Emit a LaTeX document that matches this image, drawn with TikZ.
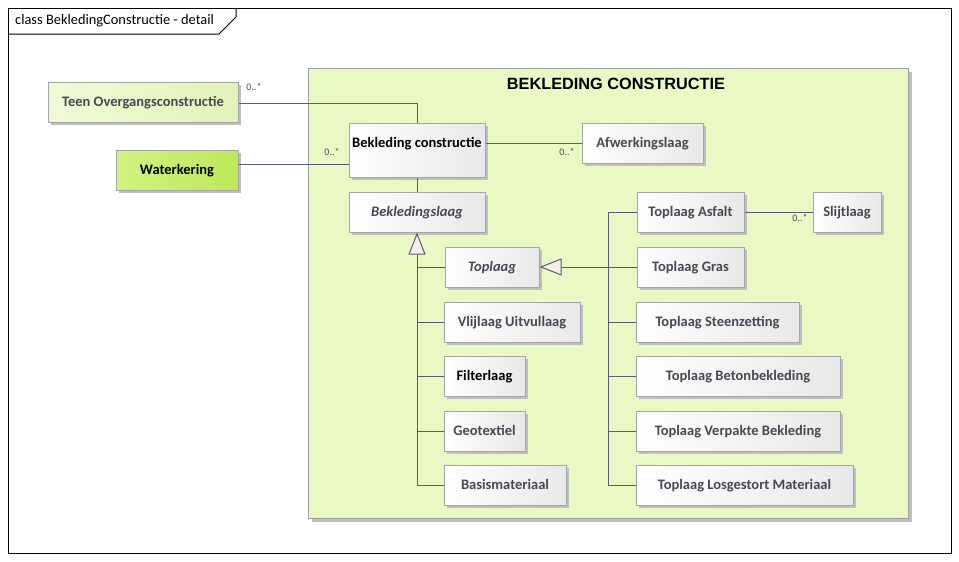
\documentclass[tikz,border=0pt]{standalone}
\usepackage{fontspec}
\setmainfont{Carlito}
\newfontfamily\arialfont{Liberation Sans}
\usetikzlibrary{shadows,arrows.meta}
\definecolor{pkgfill}{RGB}{234,249,196}
\definecolor{pkgline}{RGB}{160,160,160}
\definecolor{boxline}{RGB}{165,165,165}
\definecolor{boxtext}{RGB}{72,72,84}
\definecolor{conn}{RGB}{88,92,122}
\definecolor{trifill}{RGB}{248,236,232}
\definecolor{greyend}{RGB}{232,232,232}
\definecolor{teenA}{RGB}{240,250,214}
\definecolor{teenB}{RGB}{226,243,186}
\definecolor{waterA}{RGB}{210,242,128}
\definecolor{waterB}{RGB}{190,232,90}
\tikzset{
  shd/.style={drop shadow={shadow xshift=3pt,shadow yshift=-3pt,fill=black!25,opacity=1}},
  cls/.style={draw=boxline, line width=1pt, left color=white, right color=greyend,
     shd, minimum height=40pt, inner sep=0pt, text=boxtext, text height=11pt, text depth=1.7pt,
     font=\fontsize{14.5}{16}\selectfont\bfseries},
  conline/.style={draw=conn, line width=1pt},
  gen/.style={conline, -{Triangle[open,length=22pt,width=17pt,fill=trifill]}},
  mult/.style={font=\fontsize{10}{11}\selectfont, text=boxtext, inner sep=0pt}
}
\begin{document}
\begin{tikzpicture}[x=1pt,y=-1pt]
\useasboundingbox (0,0) rectangle (959,562);
\fill[white] (0,0) rectangle (959,562);
% frame
\node[draw=black, line width=1pt, minimum width=943pt, minimum height=545pt, inner sep=0pt, anchor=north west] (frame) at (8,8) {};
\draw[line width=1pt] (8,34) -- (219,34) -- (236,17) -- (236,8);
\node[anchor=west, inner sep=0pt, font=\fontsize{14.4}{16}\selectfont] (ftitle) at (15,21) {class BekledingConstructie - detail};
% package
\node[draw=pkgline, line width=1pt, fill=pkgfill, shd, minimum width=600pt, minimum height=450pt, inner sep=0pt, anchor=north west] (pkg) at (308,68) {};
\node[font=\arialfont\bfseries\fontsize{16.3}{18}\selectfont, inner sep=0pt] (ptitle) at (616,84) {BEKLEDING CONSTRUCTIE};
% classes
\node[cls, left color=teenA, right color=teenB, minimum width=190pt] (teen) at (143,102) {Teen Overgangsconstructie};
\node[cls, left color=waterA, right color=waterB, minimum width=122pt, text=black] (water) at (177,170) {Waterkering};
\node[cls, minimum width=136pt, minimum height=54pt] (bc) at (417,150) {};
\node[inner sep=0pt, text=black, text height=11pt, text depth=1.7pt, font=\fontsize{14.5}{16}\selectfont\bfseries] (bctext) at (417,143) {Bekleding constructie};
\node[cls, minimum width=121pt] (afw) at (642.5,143) {Afwerkingslaag};
\node[cls, minimum width=136pt, font=\fontsize{14.5}{16}\selectfont\bfseries\itshape] (bkl) at (417,212) {Bekledingslaag};
\node[cls, minimum width=94pt, font=\fontsize{14.5}{16}\selectfont\bfseries\itshape] (top) at (492,267) {Toplaag};
\node[cls, minimum width=136pt] (vlij) at (512,322) {Vlijlaag Uitvullaag};
\node[cls, minimum width=81pt, text=black] (filt) at (484.5,376) {Filterlaag};
\node[cls, minimum width=81pt] (geo) at (484.5,431) {Geotextiel};
\node[cls, minimum width=122pt] (basis) at (505,485) {Basismateriaal};
\node[cls, minimum width=107pt] (asf) at (690.5,212) {Toplaag Asfalt};
\node[cls, minimum width=68pt] (slijt) at (847,212) {Slijtlaag};
\node[cls, minimum width=107pt] (gras) at (690.5,267) {Toplaag Gras};
\node[cls, minimum width=163pt] (steen) at (717.5,322) {Toplaag Steenzetting};
\node[cls, minimum width=204pt] (beton) at (738,376) {Toplaag Betonbekleding};
\node[cls, minimum width=204pt] (verp) at (738,431) {Toplaag Verpakte Bekleding};
\node[cls, minimum width=217pt] (los) at (744.5,485) {Toplaag Losgestort Materiaal};
% associations
\draw[conline] ([yshift=-1pt]teen.east) -| (bc.north);
\draw[conline] ([yshift=6pt]water.east) -- ([yshift=6pt]water.east -| bc.west);
\draw[conline] (afw.west -| bc.east) -- (afw.west);
\draw[conline] (bc.south) -- (bkl.north);
\draw[conline] (asf.east) -- (slijt.west);
\node[mult] (m1) at (254,87) {0..*};
\node[mult] (m2) at (332,152) {0..*};
\node[mult] (m3) at (567,152) {0..*};
\node[mult] (m4) at (800,218) {0..*};
% generalization left
\draw[gen] (basis.west) -| (bkl.south);
\draw[conline] (top.west) -- (top.west -| bkl.south);
\draw[conline] (vlij.west) -- (vlij.west -| bkl.south);
\draw[conline] (filt.west) -- (filt.west -| bkl.south);
\draw[conline] (geo.west) -- (geo.west -| bkl.south);
% generalization right
\coordinate (rv) at (608,267);
\draw[conline] (asf.west) -| (rv |- los.west) -- (los.west);
\draw[conline] (steen.west) -- (steen.west -| rv);
\draw[conline] (beton.west) -- (beton.west -| rv);
\draw[conline] (verp.west) -- (verp.west -| rv);
\draw[gen] (gras.west) -- (top.east);
\end{tikzpicture}
\end{document}
